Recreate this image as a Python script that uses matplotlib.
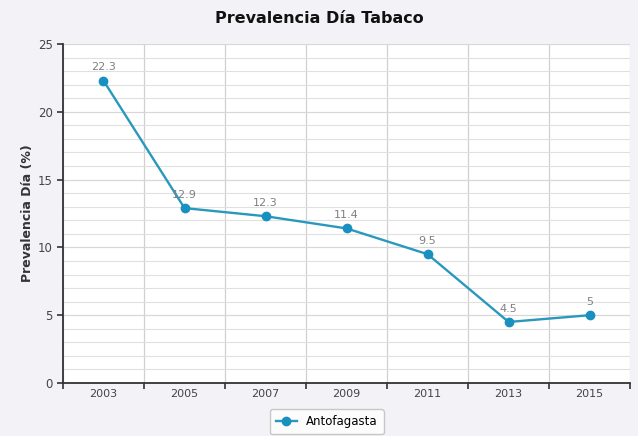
import matplotlib
matplotlib.use("Agg")
import matplotlib.pyplot as plt
from matplotlib.ticker import MultipleLocator, FixedLocator

years = ["2003", "2005", "2007", "2009", "2011", "2013", "2015"]
values = [22.3, 12.9, 12.3, 11.4, 9.5, 4.5, 5]
labels = ["22.3", "12.9", "12.3", "11.4", "9.5", "4.5", "5"]

fig = plt.figure(figsize=(6.38, 4.36), dpi=100, facecolor="#f3f3f7")
ax = fig.add_axes([0.0987, 0.1216, 0.889, 0.7774])
ax.set_facecolor("white")

x = list(range(len(years)))
ax.plot(x, values, color="#2a98bd", lw=1.7, marker="o", ms=6,
        markerfacecolor="#1890c0", markeredgecolor="#1890c0", label="Antofagasta", zorder=3)
for xi, v, t in zip(x, values, labels):
    ax.annotate(t, (xi, v), xytext=(0, 6), textcoords="offset points",
                ha="center", va="bottom", fontsize=8, color="#808080")

ax.set_xlim(-0.5, len(years) - 0.5)
ax.set_ylim(0, 25)
ax.set_xticks(x)
ax.set_xticklabels(years)
ax.xaxis.set_minor_locator(FixedLocator([i + 0.5 for i in range(-1, len(years))]))
ax.yaxis.set_major_locator(MultipleLocator(5))
ax.yaxis.set_minor_locator(MultipleLocator(1))

ax.grid(True, which="minor", axis="y", color="#e0e0e0", lw=0.8)
ax.grid(True, which="major", axis="y", color="#d8d8d8", lw=0.9)
ax.grid(True, which="minor", axis="x", color="#d0d0d0", lw=0.9)
ax.set_axisbelow(True)

ax.tick_params(axis="x", which="major", length=0, labelsize=8, colors="#444444", pad=4)
ax.tick_params(axis="x", which="minor", length=4, width=1.2, color="#333333")
ax.tick_params(axis="y", which="major", length=4, width=1.2, color="#333333",
               labelsize=8.5, labelcolor="#444444")
ax.tick_params(axis="y", which="minor", length=0)

for s in ["top", "right"]:
    ax.spines[s].set_visible(False)
for s in ["left", "bottom"]:
    ax.spines[s].set_color("#333333")
    ax.spines[s].set_linewidth(1.3)

ax.set_ylabel("Prevalencia Día (%)", fontsize=9, fontweight="bold", color="#333333", labelpad=3)
fig.suptitle("Prevalencia Día Tabaco", fontsize=11.5, fontweight="bold", color="#111111", y=0.975)

leg = ax.legend(loc="upper center", bbox_to_anchor=(0.465, -0.06), frameon=True,
                fontsize=8.5, fancybox=True, edgecolor="#bbbbbb", handlelength=1.8,
                borderpad=0.5)
leg.get_frame().set_facecolor("white")

fig.savefig("out.png", dpi=100, facecolor=fig.get_facecolor())
